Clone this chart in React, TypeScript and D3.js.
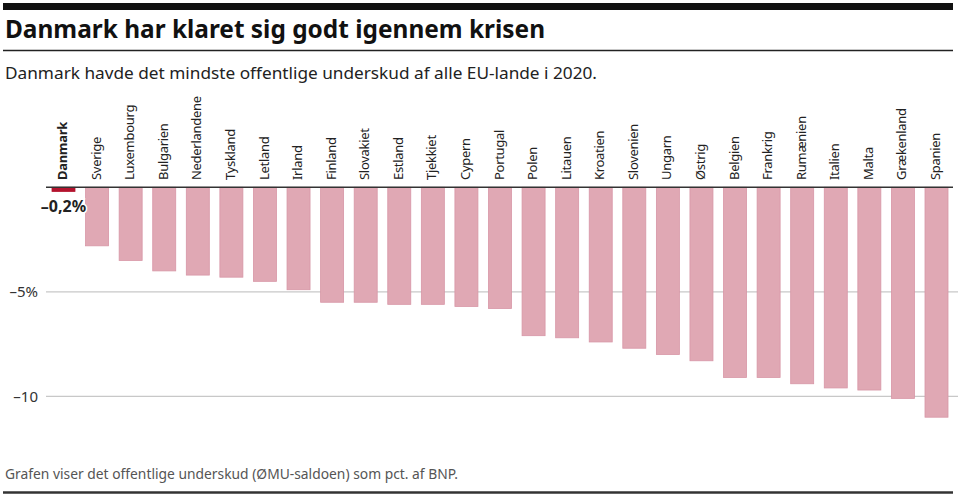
import React, { useEffect, useRef } from 'react';
import * as d3 from 'd3';

const countries = [
  'Danmark', 'Sverige', 'Luxembourg', 'Bulgarien', 'Nederlandene', 'Tyskland', 'Letland',
  'Irland', 'Finland', 'Slovakiet', 'Estland', 'Tjekkiet', 'Cypern', 'Portugal', 'Polen',
  'Litauen', 'Kroatien', 'Slovenien', 'Ungarn', 'Østrig', 'Belgien', 'Frankrig', 'Rumænien',
  'Italien', 'Malta', 'Grækenland', 'Spanien',
];
const deficits = [
  -0.2, -2.8, -3.5, -4.0, -4.2, -4.3, -4.5, -4.9, -5.5, -5.5, -5.6, -5.6, -5.7, -5.8, -7.1,
  -7.2, -7.4, -7.7, -8.0, -8.3, -9.1, -9.1, -9.4, -9.6, -9.7, -10.1, -11.0,
];
const yTicks = [-5, -10];
const tickLabels = ['–5%', '–10'];
const highlight = 'Danmark';
const highlightLabel = '–0,2%';

const W = 960;
const H = 498;
const font = '"Noto Sans", sans-serif';

const App: React.FC = () => {
  const svgRef = useRef<SVGSVGElement | null>(null);

  useEffect(() => {
    document.body.style.margin = '0';
    if (!svgRef.current) return;
    const svg = d3.select(svgRef.current);
    svg.selectAll('*').remove();

    const x = d3.scaleBand<string>().domain(countries).range([52, 948]).paddingInner(0.315).paddingOuter(0);
    const y = d3.scaleLinear().domain([0, -10]).range([187.3, 396.3]);
    const data = countries.map((c, i) => ({ c, v: deficits[i] }));

    // header
    svg.append('rect').attr('x', 3).attr('y', 3).attr('width', 950).attr('height', 7).attr('fill', '#111');
    svg.append('text').attr('x', 5).attr('y', 37.5)
      .attr('font-family', font).attr('font-weight', 700).attr('font-size', 25)
      .attr('fill', '#111').attr('textLength', 540).attr('lengthAdjust', 'spacingAndGlyphs')
      .text('Danmark har klaret sig godt igennem krisen');
    svg.append('line').attr('x1', 3).attr('x2', 953).attr('y1', 50.5).attr('y2', 50.5)
      .attr('stroke', '#222').attr('stroke-width', 1.5);
    svg.append('text').attr('x', 5).attr('y', 78.5)
      .attr('font-family', font).attr('font-size', 16).attr('fill', '#222')
      .attr('textLength', 592).attr('lengthAdjust', 'spacingAndGlyphs')
      .text('Danmark havde det mindste offentlige underskud af alle EU-lande i 2020.');

    // gridlines + tick labels
    const g = svg.append('g');
    g.selectAll('line.grid').data(yTicks).enter().append('line')
      .attr('x1', 46).attr('x2', 958)
      .attr('y1', (d) => y(d)).attr('y2', (d) => y(d))
      .attr('stroke', '#c8c8c8').attr('stroke-width', 1.2);
    g.selectAll('text.tick').data(yTicks).enter().append('text')
      .attr('x', 38).attr('y', (d) => y(d)).attr('dy', '0.35em')
      .attr('text-anchor', 'end').attr('font-family', font).attr('font-size', 15)
      .attr('fill', '#333').text((_d, i) => tickLabels[i]);

    // bars
    svg.selectAll('rect.bar').data(data).enter().append('rect')
      .attr('x', (d) => x(d.c) as number)
      .attr('y', y(0))
      .attr('width', x.bandwidth())
      .attr('height', (d) => y(d.v) - y(0))
      .attr('fill', (d) => (d.c === highlight ? '#b3132e' : '#e0a8b4'))
      .attr('stroke', (d) => (d.c === highlight ? '#b3132e' : '#d796a6'))
      .attr('stroke-width', 0.8);

    // zero line
    svg.append('line').attr('x1', 46).attr('x2', 953).attr('y1', y(0)).attr('y2', y(0))
      .attr('stroke', '#333').attr('stroke-width', 1.5);

    // country labels
    svg.selectAll('text.country').data(data).enter().append('text')
      .attr('transform', (d) => `translate(${(x(d.c) as number) + x.bandwidth() / 2 - 1},180) rotate(-90)`)
      .attr('dy', '0.35em')
      .attr('font-family', font).attr('font-size', 13)
      .attr('letter-spacing', -0.3)
      .attr('font-weight', (d) => (d.c === highlight ? 700 : 400))
      .attr('fill', '#222')
      .text((d) => d.c);

    // highlight value
    const hv = deficits[countries.indexOf(highlight)];
    svg.append('text')
      .attr('x', (x(highlight) as number) + x.bandwidth() / 2)
      .attr('y', y(hv) + 21)
      .attr('text-anchor', 'middle').attr('font-family', font).attr('font-weight', 700)
      .attr('font-size', 16).attr('fill', '#222')
      .attr('stroke', '#fff').attr('stroke-width', 3).attr('paint-order', 'stroke')
      .text(highlightLabel);

    // footer
    svg.append('text').attr('x', 5).attr('y', 479)
      .attr('font-family', font).attr('font-size', 14).attr('fill', '#555')
      .attr('textLength', 453).attr('lengthAdjust', 'spacingAndGlyphs')
      .text('Grafen viser det offentlige underskud (ØMU-saldoen) som pct. af BNP.');
    svg.append('line').attr('x1', 3).attr('x2', 953).attr('y1', 492.5).attr('y2', 492.5)
      .attr('stroke', '#333').attr('stroke-width', 2.5);
  }, []);

  return <svg ref={svgRef} width={W} height={H} viewBox={`0 0 ${W} ${H}`} style={{ display: 'block', background: '#fff' }} />;
};

export default App;
